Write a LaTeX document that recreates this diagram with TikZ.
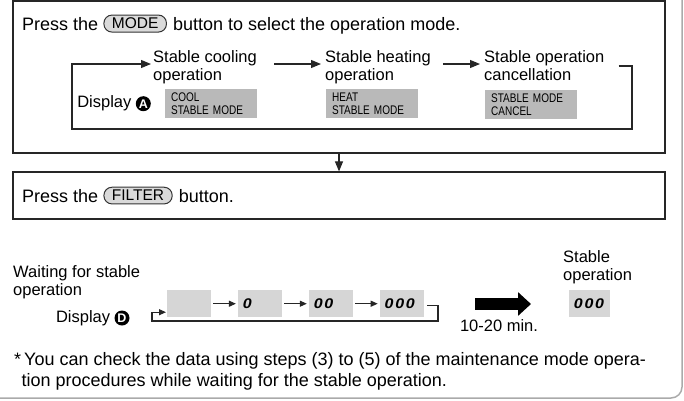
\documentclass[tikz,border=0pt]{standalone}
\usepackage{fontspec}
\setmainfont{Liberation Sans}
\newfontfamily\lcdfont[FakeStretch=0.8]{Liberation Sans}
\newfontfamily\segfont[FakeSlant=0.2,FakeStretch=1.15,LetterSpace=12]{Liberation Sans}
\definecolor{lcdgray}{RGB}{185,185,185}
\definecolor{seggray}{RGB}{214,214,214}
\definecolor{btngray}{RGB}{218,218,218}
\definecolor{framegray}{RGB}{170,170,170}
\usetikzlibrary{calc}
\usetikzlibrary{positioning}
\usetikzlibrary{arrows.meta}
\tikzset{
  stepbox/.style={draw=black!85, line width=1.2pt, inner sep=0pt},
  pill/.style={draw=black!80, fill=btngray, rounded corners=8pt, line width=1pt,
    inner xsep=8pt, inner ysep=3pt, font=\fontsize{15.5}{15.5}\selectfont},
  bigtext/.style={inner sep=0pt, font=\fontsize{18}{18}\selectfont},
  lbl/.style={align=left, inner sep=0pt, font=\fontsize{16.5}{18.5}\selectfont},
  lcd/.style={fill=lcdgray, align=left, text width=80pt, inner xsep=6pt, inner ysep=1.5pt,
    minimum height=29pt, font=\lcdfont\fontsize{12.5}{12.5}\selectfont},
  segbox/.style={fill=seggray, minimum width=44pt, minimum height=27pt, text width=36pt,
    inner xsep=4pt, font=\segfont\bfseries\fontsize{14}{14}\selectfont},
  flow/.style={line width=1.1pt, draw=black!85},
  badge/.style={circle, fill=black, text=white, inner sep=0pt, minimum size=15pt,
    font=\bfseries\fontsize{12.5}{12.5}\selectfont},
  smallhead/.style={-{Triangle[length=7pt,width=6pt]}},
  >={Triangle[length=10pt,width=8pt]}
}

\begin{document}
\begin{tikzpicture}[x=1pt, y=-1pt, node distance=0pt]
  \useasboundingbox (0,0) rectangle (684,400);
  \draw[framegray, line width=1.5pt, rounded corners=11pt] (-20,-20) rectangle (682,398);

  % mode selection
  \node[stepbox, minimum width=652pt, minimum height=152pt] (modebox) at (339,77) {};
  \node[stepbox, minimum width=652pt, minimum height=47pt] (filterbox) at (339,195.5) {};
  \draw[flow, ->] (modebox.south) -- (filterbox.north);

  \node[bigtext, anchor=base west] (press1) at (22,30) {Press the};
  \node[pill, right=5pt of press1] (modebtn) {MODE};
  \node[bigtext, anchor=base west] (press2) at ([xshift=6pt]modebtn.east |- press1.base)
    {button to select the operation mode.};

  \node[lbl, anchor=north west] (cool) at (153,50) {Stable cooling\\operation};
  \node[lbl, anchor=north west] (heat) at (325,50) {Stable heating\\operation};
  \node[lbl, anchor=north west] (cancel) at (484,50) {Stable operation\\cancellation};

  \node[lcd, anchor=north west] (coolbox) at (165,89) {COOL\\STABLE MODE};
  \node[lcd, anchor=north west] (heatbox) at (326,89) {HEAT\\STABLE MODE};
  \node[lcd, anchor=north west] (cancelbox) at (485,90) {STABLE MODE\\CANCEL};

  \node[badge, left=14pt of coolbox] (badgeA) {A};
  \node[lbl, left=4pt of badgeA] (dispA) {Display};

  \draw[flow, ->] ($(cool.north east)+(17,14)$) -- ($(heat.north west)+(-4,14)$);
  \draw[flow, ->] ($(heat.north east)+(12,14)$) -- ($(cancel.north west)+(-4,14)$);

  \coordinate (loopR) at (632,129);
  \coordinate (loopL) at (72,129);
  \draw[flow, ->] ($(cancel.north east)+(14,16)$) -| (loopR) -- (loopL)
    |- ($(cool.north west)+(-2,14)$);

  % filter
  \node[bigtext, anchor=base west] (press3) at (22,202) {Press the};
  \node[pill, right=5pt of press3] (filterbtn) {FILTER};
  \node[bigtext, anchor=base west] (press4) at ([xshift=6pt]filterbtn.east |- press3.base)
    {button.};

  % waiting display
  \node[lbl, anchor=north west] (waiting) at (13,265) {Waiting for stable\\operation};

  \begin{scope}[node distance=26.5pt]
    \node[segbox, anchor=north west] (seg0) at (167,290) {};
    \node[segbox, right=of seg0] (seg1) {0};
    \node[segbox, right=of seg1] (seg2) {00};
    \node[segbox, right=of seg2] (seg3) {000};
  \end{scope}

  \node[badge, anchor=center] (badgeD) at (122,318) {D};
  \node[lbl, left=4pt of badgeD] (dispD) {Display};

  \foreach \a/\b in {seg0/seg1, seg1/seg2, seg2/seg3}
    \draw[flow, smallhead] ($(\a.east)+(2,0)$) -- ($(\b.west)+(-2,0)$);

  \coordinate (waitR) at (438,321);
  \coordinate (waitL) at (152,321);
  \draw[flow, smallhead] ($(seg3.east)+(3,1.5)$) -| (waitR) -- (waitL)
    |- ($(seg0.west)+(-1,8.5)$);

  \coordinate (bigS) at (475,304);
  \coordinate (bigE) at (531,304);
  \draw[line width=12pt, -{Triangle[length=13pt,width=23pt]}] (bigS) -- (bigE);
  \node[lbl, anchor=north] (minutes) at (499,319) {10-20 min.};

  \node[lbl, anchor=north west] (stable) at (563,250) {Stable\\operation};
  \node[segbox, minimum width=41pt, text width=33pt, anchor=north west] (stablebox) at (569,290) {000};

  % note
  \node[lbl, anchor=north west, font=\fontsize{18}{21}\selectfont] (note) at (14,352)
    {*\,You can check the data using steps (3) to (5) of the maintenance mode opera-\\
     \hspace*{7.5pt}tion procedures while waiting for the stable operation.};
\end{tikzpicture}
\end{document}
